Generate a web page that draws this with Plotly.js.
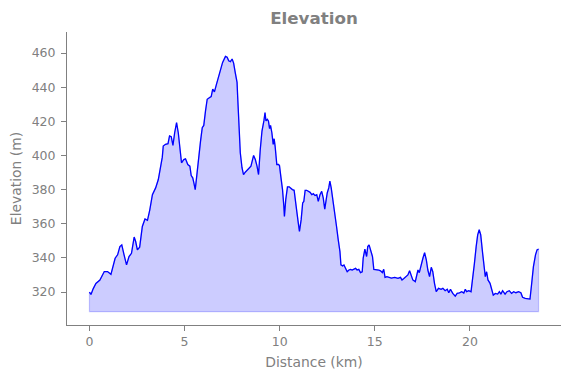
<!DOCTYPE html>
<html>
<head>
<meta charset="utf-8">
<script src="https://cdn.plot.ly/plotly-3.0.1.min.js"></script>
<style>html,body{margin:0;padding:0;background:#fff}#chart{width:571px;height:378px}</style>
</head>
<body>
<div id="chart"></div>
<script>
const distanceKm = [0.00,0.08,0.20,0.34,0.55,0.78,0.95,1.13,1.35,1.48,1.60,1.70,1.82,1.95,2.08,2.21,2.35,2.43,2.52,2.64,2.78,2.92,3.05,3.17,3.31,3.48,3.62,3.74,3.83,3.88,4.00,4.13,4.21,4.30,4.39,4.48,4.58,4.67,4.75,4.84,4.96,5.05,5.17,5.28,5.35,5.43,5.49,5.56,5.63,5.72,5.84,5.93,6.01,6.10,6.19,6.32,6.40,6.48,6.57,6.68,6.80,6.88,7.00,7.15,7.24,7.32,7.41,7.50,7.58,7.67,7.76,7.79,7.86,7.93,8.02,8.10,8.19,8.31,8.40,8.49,8.63,8.72,8.81,8.89,8.98,9.07,9.17,9.23,9.28,9.35,9.41,9.47,9.52,9.59,9.66,9.71,9.76,9.85,9.94,9.99,10.07,10.15,10.22,10.25,10.32,10.41,10.50,10.59,10.67,10.76,10.81,10.90,10.98,11.04,11.13,11.21,11.27,11.34,11.42,11.51,11.60,11.69,11.77,11.86,11.95,12.03,12.12,12.21,12.29,12.37,12.43,12.50,12.58,12.64,12.71,12.82,12.90,12.99,13.08,13.17,13.22,13.31,13.38,13.46,13.55,13.64,13.73,13.81,13.90,13.99,14.07,14.16,14.25,14.34,14.39,14.48,14.57,14.63,14.70,14.79,14.88,14.95,15.09,15.21,15.30,15.40,15.47,15.54,15.64,15.79,15.87,16.05,16.22,16.35,16.43,16.53,16.66,16.74,16.83,16.92,17.00,17.13,17.21,17.27,17.34,17.41,17.48,17.53,17.62,17.71,17.79,17.88,17.97,18.05,18.14,18.23,18.35,18.49,18.58,18.70,18.81,18.89,18.98,19.10,19.23,19.33,19.45,19.57,19.68,19.76,19.83,19.94,20.06,20.15,20.24,20.33,20.41,20.49,20.57,20.67,20.76,20.81,20.88,20.95,21.06,21.14,21.23,21.34,21.46,21.55,21.63,21.72,21.85,21.95,22.07,22.19,22.30,22.42,22.56,22.68,22.77,22.91,23.03,23.16,23.23,23.34,23.45,23.53,23.61];
const elevationM = [320,318.6,322,325,327,332,332,330.4,339.8,341.8,346.6,347.6,341.8,335.9,340.8,342.7,352.2,349.6,344.7,346.3,358.4,362.8,362,368,377,381,385.9,394,399,405.5,406.5,406.9,411.4,411,405.9,413.3,419.2,413.3,403.5,395.7,397.6,398,394.7,393.7,388.2,386.9,383.9,380,386.9,397.6,408.4,416.3,417.6,426,432.9,433.9,434.5,438.8,437.2,441.8,446.6,449.6,454.5,458,457.5,455.5,454.9,456.5,454.1,448.2,442.8,435,413,401.6,392.8,388.8,390.2,391.8,392.8,393.7,400,397.6,393.7,388.8,403.5,414.3,420.2,425.1,420.2,421.2,420.2,415.7,417.6,413.3,406.5,409.8,405.5,394.7,394.7,394.1,386.9,380,370.2,364.3,374.1,381.6,381.6,380.4,380,379.6,374.1,367.2,360.4,355.5,362.4,372.2,373.1,379.6,379.6,379,378.4,377,377.6,376.5,377,373.1,377,379,375.1,368.6,373.1,378,381,384.9,381,373.1,367.2,358.4,350.6,343.7,335.9,335.3,335.9,333.9,331.9,332.9,333.3,332.9,333.3,333.9,332.9,333.3,331.4,331.9,339.8,345.1,340.8,346.6,347.6,343.7,340.8,333.3,333.3,332.9,332.4,331.4,333.3,328.6,329,328.6,328.2,328.6,328,328.6,327.1,328,329,330,332.5,330,327.1,326.1,331,332.9,331.4,334.9,336.9,339.8,343.1,338.8,332.9,329,334.5,331.9,325.1,320.2,322.2,321.6,322.2,320.8,321.6,319.6,321.6,319.2,317.6,319.2,319.5,320.2,319.4,321.6,320.2,320.8,320.2,327.1,336.9,346.6,353.5,356.5,353.5,342.7,332.9,329,331.9,327.1,325.1,321.2,318.2,319.2,318.8,320.2,318.8,320.8,318.8,320.2,320.8,319.2,320.2,319.6,320.2,319.6,316.9,316.3,316.3,315.9,323.1,334.9,341.8,344.7,345.1];
const fillBase = 308.5;
const xTicks = [0, 5, 10, 15, 20];
const yTicks = [320, 340, 360, 380, 400, 420, 440, 460];

const n = distanceKm.length;
const polyX = distanceKm.concat([distanceKm[n-1], distanceKm[0], distanceKm[0]]);
const polyY = elevationM.concat([fillBase, fillBase, elevationM[0]]);

const gray = '#808080';
const font = 'DejaVu Sans, sans-serif';

const traces = [
  {x: polyX, y: polyY, type: 'scatter', mode: 'lines', fill: 'toself',
   fillcolor: 'rgba(0,0,255,0.2)', line: {color: 'rgba(0,0,255,0.2)', width: 1.2},
   hoverinfo: 'skip', showlegend: false},
  {x: distanceKm, y: elevationM, type: 'scatter', mode: 'lines',
   line: {color: '#0000ff', width: 1.3}, showlegend: false}
];

const layout = {
  width: 571, height: 378,
  margin: {l: 67, r: 10, t: 32, b: 53},
  paper_bgcolor: '#ffffff', plot_bgcolor: '#ffffff',
  font: {family: font, color: gray},
  title: {text: '<b>Elevation</b>', font: {family: font, size: 16.7, color: gray},
          xref: 'paper', x: 0.5, xanchor: 'center', yref: 'container', y: 1 - 18/378, yanchor: 'middle'},
  xaxis: {
    range: [-1.18, 24.79], tickvals: xTicks, ticktext: xTicks.map(String),
    showgrid: false, zeroline: false, showline: true, linecolor: gray, linewidth: 1,
    ticks: 'outside', ticklen: 5, tickcolor: gray, tickwidth: 1,
    tickfont: {family: font, size: 12.5, color: gray},
    title: {text: 'Distance (km)', font: {family: font, size: 13.9, color: gray}, standoff: 9}
  },
  yaxis: {
    range: [300.7, 472.3], tickvals: yTicks, ticktext: yTicks.map(String),
    showgrid: false, zeroline: false, showline: true, linecolor: gray, linewidth: 1,
    ticks: 'outside', ticklen: 5, tickcolor: gray, tickwidth: 1, ticklabelstandoff: 3,
    tickfont: {family: font, size: 12.5, color: gray},
    title: {text: 'Elevation (m)', font: {family: font, size: 13.9, color: gray}, standoff: 6}
  }
};

Plotly.newPlot('chart', traces, layout, {displayModeBar: false, staticPlot: true});
</script>
</body>
</html>
